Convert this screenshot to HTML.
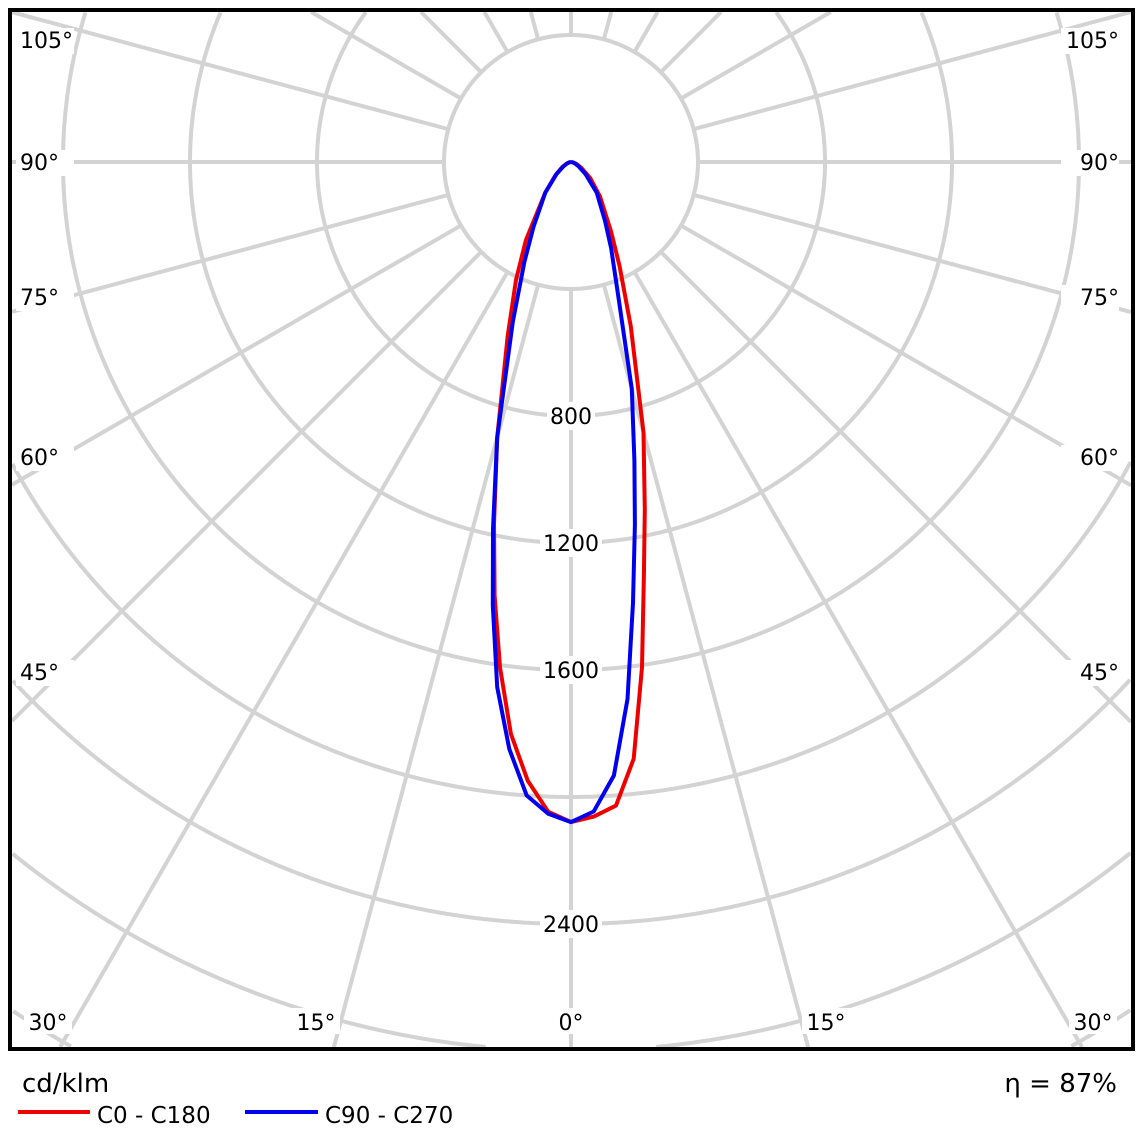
<!DOCTYPE html>
<html><head><meta charset="utf-8">
<style>
html,body{margin:0;padding:0;background:#fff;width:1143px;height:1143px;overflow:hidden;}
svg{display:block;}
svg text{font-family:"DejaVu Sans","Liberation Sans",sans-serif;}
</style></head>
<body>
<svg id="chart" width="1143" height="1143" viewBox="0 0 1143 1143" xmlns="http://www.w3.org/2000/svg">
<rect x="0" y="0" width="1143" height="1143" fill="#fff"/>
<g id="grid"></g>
<g id="rings"></g>
<g id="angles"></g>
<g id="curves"></g>
<rect x="10" y="10" width="1123" height="1039" fill="none" stroke="#000" stroke-width="4"/>
<text x="22" y="1092" font-size="26" fill="#000">cd/klm</text>
<line x1="18" y1="1112" x2="90" y2="1112" stroke="#e00" stroke-width="4"/>
<text x="97" y="1123" font-size="23">C0 - C180</text>
<line x1="245" y1="1112" x2="318" y2="1112" stroke="#00e" stroke-width="4"/>
<text x="325" y="1123" font-size="23">C90 - C270</text>
<text x="1117" y="1092" font-size="26" text-anchor="end">η = 87%</text>
</svg>
<script>
const gammas = [0,2,4,6,8,10,12,15,20,25,30,40,50,60,70,80,90];
const c0   = [2079,2063,2032,1890,1607,1323,1118,882,551,362,252,142,79,38,19,6,0];
const c180 = [2079,2048,1953,1811,1607,1386,1166,898,583,410,284,126,63,32,13,5,0];
const c90  = [2079,2047,1937,1701,1402,1159,961,740,425,299,214,126,60,28,13,5,0];
const c270 = [2079,2054,2000,1859,1670,1418,1181,898,536,347,236,126,60,28,13,5,0];
const ringValues = [400,800,1200,1600,2000,2400,2800,3200,3600,4000,4400];
const ringLabels = ["800","1200","1600","2400"];
const ringLabelValues = [800,1200,1600,2400];

const NS="http://www.w3.org/2000/svg";
const cx=571, cy=162, pxPer=127/400;
const X0=12, X1=1131, Y0=12, Y1=1047;
function rPx(v){return v*pxPer;}
function pt(v,g,side){const a=g*Math.PI/180;return [cx+side*rPx(v)*Math.sin(a), cy+rPx(v)*Math.cos(a)];}
function mk(tag,attrs,parent){const e=document.createElementNS(NS,tag);for(const k in attrs)e.setAttribute(k,attrs[k]);parent.appendChild(e);return e;}
function inside(x,y){return x>=X0&&x<=X1&&y>=Y0&&y<=Y1;}

const grid=document.getElementById('grid');
ringValues.forEach(v=>{
  const r=rPx(v); let d=''; let pen=false;
  for(let a=0;a<=3600;a++){
    const t=a/10*Math.PI/180, x=cx+r*Math.sin(t), y=cy+r*Math.cos(t);
    if(inside(x,y)){d+=(pen?'L':'M')+x.toFixed(1)+','+y.toFixed(1);pen=true;} else pen=false;
  }
  if(!d) return;
  const c=mk('path',{d:d,fill:'none',stroke:'#d3d3d3','stroke-width':4},grid);
  
  
});
for(let a=0;a<360;a+=15){
  const t=a*Math.PI/180, sx=Math.sin(t), sy=Math.cos(t), r0=rPx(400);
  let r1=1e9;
  if(sx>1e-9) r1=Math.min(r1,(X1-cx)/sx); if(sx<-1e-9) r1=Math.min(r1,(X0-cx)/sx);
  if(sy>1e-9) r1=Math.min(r1,(Y1-cy)/sy); if(sy<-1e-9) r1=Math.min(r1,(Y0-cy)/sy);
  const l=mk('line',{x1:cx+r0*sx,y1:cy+r0*sy,x2:cx+r1*sx,y2:cy+r1*sy,stroke:'#d3d3d3','stroke-width':4},grid);
  
  
}
const rings=document.getElementById('rings');
ringLabelValues.forEach((v,i)=>{
  const y=cy+rPx(v);
  const w=ringLabels[i].length*14+6;
  const bg=mk('rect',{x:cx-w/2,y:y-14,width:w,height:28,fill:'#fff'},rings);
  
  
  const t=mk('text',{x:cx,y:y+8,'font-size':22,'text-anchor':'middle'},rings);
  t.textContent=ringLabels[i];
  
  
});
const angles=document.getElementById('angles');
const sideLabels=[["105°",48],["90°",170],["75°",305],["60°",465],["45°",680]];
sideLabels.forEach(([s,y])=>{
  [[20,'start'],[1119,'end']].forEach(([x,anc])=>{
    const bg=mk('rect',{x:anc==='start'?16:1119-58,y:y-20,width:58,height:26,fill:'#fff'},angles);
    
    
    const t=mk('text',{x:x,y:y,'font-size':22,'text-anchor':anc},angles);
    t.textContent=s;
    
    
  });
});
[["30°",48],["15°",316],["0°",571],["15°",826],["30°",1093]].forEach(([s,x])=>{
  const bg=mk('rect',{x:x-24,y:1008,width:48,height:26,fill:'#fff'},angles);
  
  
  const t=mk('text',{x:x,y:1030,'font-size':22,'text-anchor':'middle'},angles);
  t.textContent=s;
  
  
});
const curves=document.getElementById('curves');
function curve(right,left,color,name){
  const pts=[];
  for(let i=gammas.length-1;i>=0;i--)pts.push(pt(left[i],gammas[i],-1));
  for(let i=0;i<gammas.length;i++)pts.push(pt(right[i],gammas[i],1));
  const p=mk('polyline',{points:pts.map(q=>q[0].toFixed(1)+','+q[1].toFixed(1)).join(' '),fill:'none',stroke:color,'stroke-width':4,'stroke-linejoin':'round'},curves);
  
  
}
curve(c0,c180,'#e00','curve-c0-c180');
curve(c90,c270,'#00e','curve-c90-c270');
</script>
</body></html>
